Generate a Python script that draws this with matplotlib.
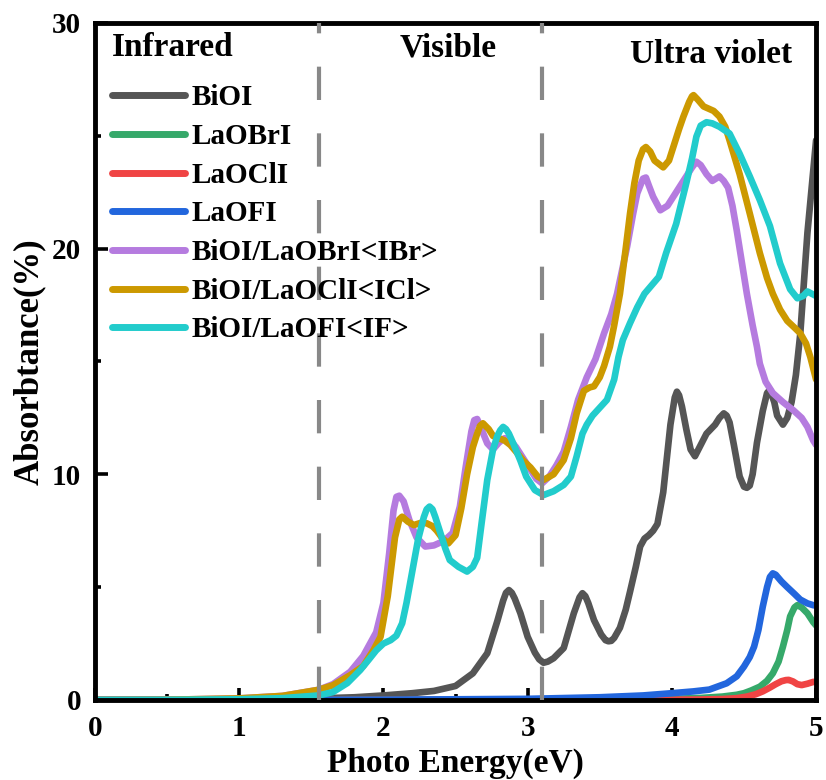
import numpy as np
import matplotlib.pyplot as plt

plt.rcParams["font.family"] = ["Liberation Serif", "DejaVu Serif"]
plt.rcParams["font.weight"] = "bold"

# BiOI
biol_x = [0, 0.5, 1.0, 1.5, 1.8, 2.0, 2.2, 2.35, 2.5, 2.62, 2.72, 2.79, 2.83, 2.85, 2.87, 2.89, 2.91, 2.95,
          3.0, 3.05, 3.08, 3.11, 3.14, 3.18, 3.25, 3.32, 3.36, 3.38, 3.4, 3.42, 3.46, 3.51, 3.54, 3.56, 3.58,
          3.6, 3.64, 3.68, 3.71, 3.75, 3.78, 3.81, 3.84, 3.87, 3.9, 3.94, 3.97, 3.99, 4.02, 4.035, 4.05,
          4.07, 4.1, 4.13, 4.16, 4.2, 4.24, 4.3, 4.33, 4.36, 4.38, 4.4, 4.43, 4.47, 4.5, 4.52, 4.54, 4.56,
          4.59, 4.63, 4.66, 4.68, 4.71, 4.73, 4.77, 4.8, 4.83, 4.86, 4.89, 4.94, 5.0]
biol_y = [0, 0.005, 0.02, 0.06, 0.12, 0.2, 0.3, 0.4, 0.62, 1.18, 2.07, 3.5, 4.4, 4.75, 4.87, 4.75, 4.5, 3.84,
          2.8, 2.1, 1.8, 1.65, 1.7, 1.85, 2.3, 3.84, 4.55, 4.73, 4.6, 4.3, 3.54, 2.9, 2.65, 2.6, 2.62,
          2.75, 3.2, 4.0, 4.8, 5.9, 6.8, 7.15, 7.3, 7.5, 7.8, 9.2, 11.0, 12.2, 13.4, 13.66, 13.5,
          13.0, 12.0, 11.1, 10.8, 11.3, 11.8, 12.2, 12.5, 12.7, 12.6, 12.3, 11.3, 9.9, 9.45, 9.4, 9.5, 10.0,
          11.4, 12.8, 13.6, 13.75, 13.2, 12.6, 12.2, 12.5, 13.2, 14.4, 16.2, 20.7, 24.8]

# LaOBrI
labr_x = [0, 1, 2, 3, 3.5, 4.0, 4.2, 4.35, 4.45, 4.5, 4.55, 4.61, 4.66, 4.7, 4.74, 4.77, 4.8, 4.82,
          4.85, 4.87, 4.9, 4.94, 4.98, 5.0]
labr_y = [0, 0, 0.005, 0.01, 0.02, 0.05, 0.09, 0.15, 0.23, 0.3, 0.42, 0.59, 0.85, 1.18, 1.7, 2.36, 3.1, 3.7,
          4.1, 4.2, 4.1, 3.84, 3.45, 3.3]

# LaOClI
lacl_x = [0, 2, 3, 4.0, 4.2, 4.35, 4.45, 4.52, 4.58, 4.63, 4.68, 4.72, 4.76, 4.79, 4.81, 4.84, 4.87,
          4.9, 4.94, 4.98, 5.0]
lacl_y = [0, 0, 0.005, 0.01, 0.02, 0.04, 0.08, 0.15, 0.25, 0.38, 0.55, 0.7, 0.83, 0.88, 0.89, 0.82, 0.7,
          0.66, 0.72, 0.8, 0.8]

# LaOFI
laf_x = [0, 1, 2, 3, 3.5, 3.8, 4.0, 4.15, 4.26, 4.38, 4.45, 4.5, 4.54, 4.57, 4.6, 4.63, 4.66, 4.68, 4.7,
         4.72, 4.76, 4.8, 4.85, 4.89, 4.94, 4.98, 5.0]
laf_y = [0, 0, 0.01, 0.05, 0.12, 0.2, 0.3, 0.38, 0.46, 0.74, 1.05, 1.48, 1.9, 2.36, 3.1, 4.13, 5.0, 5.45, 5.61,
         5.55, 5.25, 5.0, 4.7, 4.45, 4.28, 4.2, 4.18]

# BiOI/LaOBrI<IBr>
ibr_x = [0, 0.5, 1.0, 1.3, 1.55, 1.65, 1.77, 1.86, 1.95, 2.0, 2.04, 2.07, 2.09, 2.11, 2.14, 2.18, 2.23, 2.29,
         2.35, 2.42, 2.48, 2.53, 2.57, 2.61, 2.63, 2.65, 2.68, 2.72, 2.76, 2.8, 2.84, 2.88, 2.92, 2.97, 3.02,
         3.06, 3.1, 3.15, 3.2, 3.25, 3.3, 3.35, 3.41, 3.47, 3.53, 3.58, 3.62, 3.66, 3.69, 3.73, 3.76, 3.8,
         3.82, 3.84, 3.87, 3.92, 3.97, 4.01, 4.06, 4.1, 4.14, 4.17, 4.2, 4.24, 4.28, 4.33, 4.36, 4.39, 4.42,
         4.45, 4.49, 4.52, 4.56, 4.59, 4.61, 4.65, 4.7, 4.77, 4.84, 4.9, 4.94, 4.98, 5.0]
ibr_y = [0, 0.01, 0.07, 0.18, 0.45, 0.7, 1.25, 1.95, 3.0, 4.3, 6.5, 8.4, 9.0, 9.05, 8.8, 7.97, 7.2, 6.8,
         6.85, 7.05, 7.4, 8.57, 10.3, 11.9, 12.4, 12.45, 12.0, 11.37, 11.1, 11.4, 11.6, 11.5, 11.2, 10.7, 10.2,
         9.8, 9.6, 9.9, 10.4, 11.0, 12.1, 13.3, 14.3, 15.1, 16.25, 17.1, 18.0, 19.2, 20.1, 21.5, 22.45, 23.1,
         23.15, 22.8, 22.3, 21.7, 21.9, 22.3, 22.8, 23.2, 23.6, 23.85, 23.7, 23.3, 23.0, 23.2, 23.0, 22.7, 21.9,
         20.8, 19.2, 18.0, 16.6, 15.65, 14.9, 14.1, 13.6, 13.2, 12.85, 12.5, 12.1, 11.5, 11.3]

# BiOI/LaOClI<ICl>
icl_x = [0, 0.5, 1.0, 1.3, 1.55, 1.65, 1.77, 1.86, 1.93, 1.98, 2.03, 2.08, 2.11, 2.13, 2.17, 2.21, 2.26, 2.3,
         2.34, 2.37, 2.41, 2.45, 2.5, 2.54, 2.58, 2.62, 2.65, 2.67, 2.69, 2.73, 2.76, 2.8, 2.84, 2.88, 2.92,
         2.97, 3.02, 3.07, 3.11, 3.18, 3.25, 3.3, 3.34, 3.39, 3.43, 3.46, 3.5, 3.53, 3.57, 3.6, 3.64, 3.68,
         3.71, 3.74, 3.77, 3.8, 3.82, 3.85, 3.88, 3.94, 3.98, 4.01, 4.05, 4.08, 4.12, 4.14, 4.15, 4.18, 4.22,
         4.29, 4.33, 4.37, 4.4, 4.47, 4.54, 4.61, 4.66, 4.7, 4.75, 4.8, 4.85, 4.89, 4.93, 4.96, 5.0]
icl_y = [0, 0.01, 0.07, 0.18, 0.45, 0.65, 1.1, 1.5, 2.2, 2.8, 4.6, 7.2, 8.0, 8.12, 7.9, 7.75, 7.85, 7.83,
         7.7, 7.5, 7.15, 6.94, 7.3, 8.5, 10.0, 11.2, 11.8, 12.15, 12.26, 12.0, 11.7, 11.6, 11.5, 11.3, 11.0,
         10.6, 10.3, 9.9, 9.75, 10.0, 10.63, 11.6, 12.7, 13.7, 13.85, 13.9, 14.3, 14.8, 15.65, 16.6, 18.0, 20.0,
         21.56, 22.9, 23.9, 24.4, 24.5, 24.3, 23.9, 23.6, 23.9, 24.5, 25.3, 25.85, 26.5, 26.75, 26.8, 26.6, 26.3,
         26.1, 25.85, 25.4, 24.8, 23.3, 21.56, 19.8, 18.7, 18.0, 17.3, 16.8, 16.5, 16.25, 15.8, 15.2, 14.2]

# BiOI/LaOFI<IF>
if_x = [0, 0.5, 1.0, 1.3, 1.55, 1.65, 1.75, 1.84, 1.9, 1.95, 2.0, 2.05, 2.09, 2.13, 2.16, 2.2, 2.24, 2.28,
        2.3, 2.32, 2.34, 2.36, 2.39, 2.43, 2.46, 2.52, 2.58, 2.62, 2.65, 2.68, 2.72, 2.76, 2.79, 2.81, 2.83,
        2.85, 2.87, 2.9, 2.95, 2.99, 3.05, 3.11, 3.18, 3.25, 3.3, 3.34, 3.38, 3.41, 3.45, 3.5, 3.55, 3.6,
        3.63, 3.66, 3.71, 3.76, 3.81, 3.85, 3.91, 3.96, 4.03, 4.1, 4.14, 4.17, 4.2, 4.24, 4.28, 4.33, 4.4,
        4.47, 4.54, 4.61, 4.68, 4.75, 4.82, 4.87, 4.91, 4.94, 4.97, 5.0]
if_y = [0, 0.005, 0.03, 0.08, 0.2, 0.35, 0.75, 1.33, 1.8, 2.2, 2.5, 2.65, 2.85, 3.4, 4.3, 5.7, 7.1, 8.1,
        8.45, 8.57, 8.45, 8.1, 7.5, 6.7, 6.2, 5.9, 5.69, 5.9, 6.3, 7.8, 9.75, 11.1, 11.7, 11.95, 12.1,
        12.0, 11.8, 11.37, 10.6, 9.9, 9.3, 9.08, 9.25, 9.53, 9.9, 10.8, 11.8, 12.2, 12.6, 12.95, 13.3, 14.2,
        15.2, 15.95, 16.7, 17.4, 18.0, 18.3, 18.75, 19.8, 21.1, 22.9, 24.0, 24.96, 25.45, 25.6, 25.55, 25.4, 25.1,
        24.2, 23.2, 22.15, 21.0, 19.35, 18.2, 17.8, 17.9, 18.1, 18.0, 17.9]

labels = ["BiOI", "LaOBrI", "LaOClI", "LaOFI", "BiOI/LaOBrI<IBr>", "BiOI/LaOClI<ICl>", "BiOI/LaOFI<IF>"]
colors = ["#555555", "#36a96a", "#f04444", "#2266dd", "#b57bdf", "#cc9900", "#22cccc"]
series = [(biol_x, biol_y), (labr_x, labr_y), (lacl_x, lacl_y), (laf_x, laf_y),
          (ibr_x, ibr_y), (icl_x, icl_y), (if_x, if_y)]

region_edges = [1.55, 3.1]

fig = plt.figure(figsize=(8.26, 7.8), dpi=100)
ax = fig.add_axes([0.115, 0.1026, 0.873, 0.868])

for (xs, ys), lab, c in zip(series, labels, colors):
    ax.plot(xs, ys, color=c, lw=4.8, label=lab, solid_capstyle="round", solid_joinstyle="round")

for xe in region_edges:
    ax.plot([xe, xe], [0, 30], color="#888888", lw=3, dashes=(8, 8), zorder=5)

ax.text(0.12, 28.9, "Infrared", fontsize=24, fontweight="bold", va="center")
ax.text(2.11, 28.9, "Visible", fontsize=24, fontweight="bold", va="center")
ax.text(3.71, 28.6, "Ultra violet", fontsize=24, fontweight="bold", va="center")

ax.set_xlim(0, 5)
ax.set_ylim(0, 30)
ax.set_xticks([0, 1, 2, 3, 4, 5])
ax.set_xticks(np.arange(0.5, 5, 1), minor=True)
ax.set_yticks([0, 10, 20, 30])
ax.set_yticks([5, 15, 25], minor=True)
ax.tick_params(which="both", direction="in", width=2.6, labelsize=21)
ax.tick_params(which="major", length=9)
ax.tick_params(which="minor", length=4.5)
ax.tick_params(axis="x", pad=11)
ax.tick_params(axis="y", pad=10)
for sp in ax.spines.values():
    sp.set_linewidth(3.5)

ax.set_xlabel("Photo Energy(eV)", fontsize=24, fontweight="bold", labelpad=4)
ax.set_ylabel("Absorbtance(%)", fontsize=25, fontweight="bold", labelpad=4)

leg = ax.legend(loc="upper left", bbox_to_anchor=(0.0, 0.935), frameon=False, fontsize=21,
                handlelength=2.5, handletextpad=0.2, labelspacing=0.4, borderaxespad=0.2)
for h in leg.get_lines():
    h.set_linewidth(5)

fig.savefig("out.png", dpi=100)
